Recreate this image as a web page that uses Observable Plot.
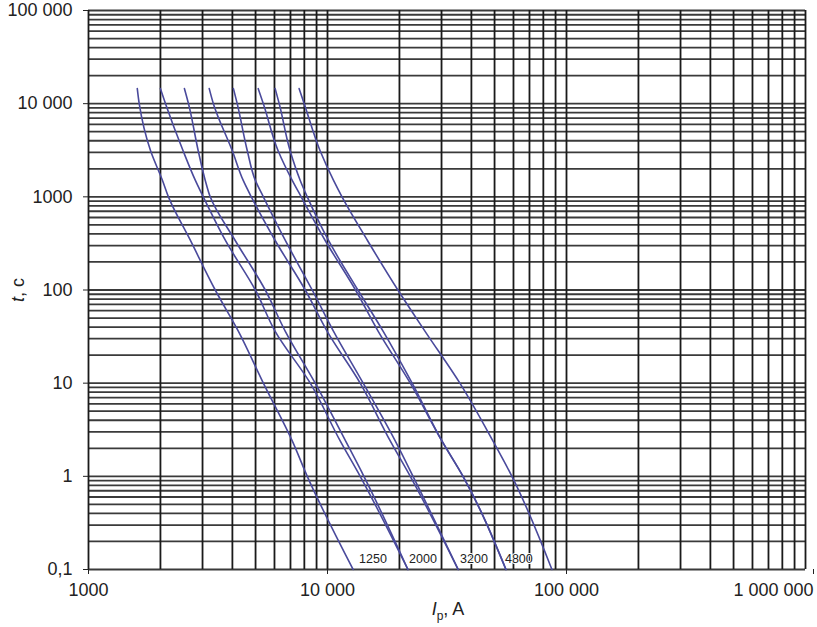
<!DOCTYPE html>
<html>
<head>
<meta charset="utf-8">
<script src="https://cdn.jsdelivr.net/npm/d3@7"></script>
<script src="https://cdn.jsdelivr.net/npm/@observablehq/plot@0.6"></script>
<style>
  body { margin: 0; background: #fff; }
</style>
</head>
<body>
<div id="chart"></div>
<script>
const tLevels = [14500, 10000, 3100, 1500, 1000, 340, 100, 36, 10, 2.4, 1, 0.1];

// current (A) of each curve at those time levels
const curve1 = [1600, 1630, 1820, 2040, 2160, 2670, 3390, 4240, 5390, 7120, 8230, 12800];
const curve2 = [2000, 2100, 2490, 2800, 3020, 3740, 4990, 6040, 8470, 11300, 13700, 21700];
const curve3 = [2520, 2620, 2880, 3080, 3230, 4110, 5490, 6660, 8880, 11900, 14200, 21700];
const curve4 = [3200, 3330, 4000, 4440, 4800, 6040, 8070, 9970, 13700, 18300, 22200, 35200];
const curve5 = [4040, 4190, 4620, 4990, 5390, 6660, 8630, 10600, 14100, 19200, 22800, 35200];
const curve6 = [5130, 5390, 6220, 7120, 7760, 9780, 13100, 16300, 22200, 30100, 36900, 55800];
const curve7 = [6040, 6280, 6980, 7690, 8230, 10100, 13400, 17100, 22600, 30100, 36900, 55800];
const curve8 = [7610, 7990, 9320, 10600, 11500, 14700, 19700, 25600, 35800, 49200, 59100, 86900];
const curves = [curve1, curve2, curve3, curve4, curve5, curve6, curve7, curve8];

// curve labels near the bottom
const labelText = ["1250", "2000", "3200", "4800"];
const labelI = [15500, 25100, 41000, 63200];
const labelT = 0.13;

// ticks and grid lines
const xTicks = [1000, 10000, 100000];
const xLast = [1000000];
const yTicks = [0.1, 1, 10, 100, 1000, 10000, 100000];
const mult = [1, 2, 3, 4, 5, 6, 7, 8, 9];
const xGrid = [1000, 10000, 100000].flatMap(p => mult.map(m => m * p)).concat([1000000]);
const yGrid = [0.1, 1, 10, 100, 1000, 10000].flatMap(p => mult.map(m => +(m * p).toPrecision(3))).concat([100000]);

const lineData = curves.flatMap((c, i) => c.map((I, j) => ({curve: i, I, t: tLevels[j]})));
const labelData = labelText.map((s, i) => ({s, I: labelI[i], t: labelT}));

const fmt = d => d < 1 ? String(d).replace(".", ",")
  : d >= 10000 ? d3.format(",")(d).replace(/,/g, " ") : String(d);

const chart = Plot.plot({
  width: 817,
  height: 627,
  marginLeft: 88,
  marginRight: 12,
  marginTop: 10,
  marginBottom: 58,
  style: {fontFamily: "'Liberation Sans', Arial, sans-serif", fontSize: "18px", color: "#222", background: "#fff"},
  x: {type: "log", domain: [1000, 1000000]},
  y: {type: "log", domain: [0.1, 100000]},
  marks: [
    Plot.ruleY(yGrid, {stroke: "#3a3a3a", strokeWidth: 1.8}),
    Plot.ruleX(xGrid, {stroke: "#1a1a1a", strokeWidth: 1.8}),
    Plot.axisY(yTicks, {tickFormat: fmt, tickSize: 5, tickPadding: 11, label: null, fontSize: 18}),
    Plot.axisX(xTicks, {tickFormat: fmt, tickSize: 5, tickPadding: 9, label: null, fontSize: 18}),
    Plot.axisX(xLast, {tickFormat: fmt, tickSize: 5, tickPadding: 9, label: null, fontSize: 18, textAnchor: "end", dx: 8}),
    Plot.line(lineData, {x: "I", y: "t", z: "curve", stroke: "#4a4a9c", strokeWidth: 1.6, curve: "monotone-y"}),
    Plot.text(labelData, {x: "I", y: "t", text: "s", fontSize: 12.5, fill: "#222", stroke: "white", strokeWidth: 2})
  ]
});

const svg = d3.select(chart);
// y-axis title: t, c
svg.append("text")
  .attr("transform", "translate(24,290) rotate(-90)")
  .attr("text-anchor", "middle")
  .style("font-size", "18px")
  .attr("fill", "#222")
  .call(t => {
    t.append("tspan").style("font-style", "italic").text("t");
    t.append("tspan").text(", c");
  });
// x-axis title: Ip, A
svg.append("text")
  .attr("x", 448)
  .attr("y", 615)
  .attr("text-anchor", "middle")
  .style("font-size", "18px")
  .attr("fill", "#222")
  .call(t => {
    t.append("tspan").style("font-style", "italic").text("I");
    t.append("tspan").attr("dy", 5).style("font-size", "12px").text("p");
    t.append("tspan").attr("dy", -5).text(", A");
  });

d3.select("#chart").append(() => chart);
</script>
</body>
</html>
